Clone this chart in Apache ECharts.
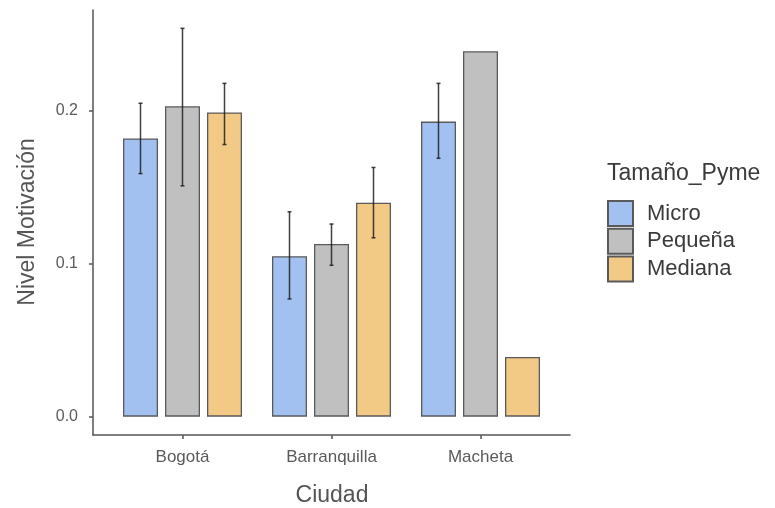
<!DOCTYPE html>
<html><head><meta charset="utf-8">
<script src="https://cdn.jsdelivr.net/npm/echarts@6/dist/echarts.min.js"></script>
<style>html,body{margin:0;padding:0;background:#fff}#c{width:775px;height:508px}</style>
</head><body><div id="c"></div>
<script>
const cities = ['Bogotá', 'Barranquilla', 'Macheta'];
const groups = ['Micro', 'Pequeña', 'Mediana'];
const micro = [0.182, 0.105, 0.193];
const pequena = [0.203, 0.113, 0.239];
const mediana = [0.199, 0.140, 0.039];
const microLow = [0.159, 0.077, 0.169];
const microHigh = [0.205, 0.134, 0.218];
const pequenaLow = [0.151, 0.099, null];
const pequenaHigh = [0.254, 0.126, null];
const medianaLow = [0.178, 0.117, null];
const medianaHigh = [0.218, 0.163, null];
const yTicks = [0, 0.1, 0.2];

const colors = ['#a3c1f0', '#c0c0c0', '#f2c985'];
const FONT = 'Liberation Sans';
const barW = 35, gapPx = 7;

const means = [micro, pequena, mediana];
const lows = [microLow, pequenaLow, medianaLow];
const highs = [microHigh, pequenaHigh, medianaHigh];

const errData = [];
for (let g = 0; g < 3; g++) {
  for (let i = 0; i < cities.length; i++) {
    if (lows[g][i] != null) errData.push([i, lows[g][i], highs[g][i], g - 1]);
  }
}

const chart = echarts.init(document.getElementById('c'));
const axisColor = '#555';
const barSeries = groups.map((name, g) => ({
  name, type: 'bar', xAxisIndex: 1, yAxisIndex: 1,
  data: means[g], barWidth: barW, barGap: (gapPx / barW * 100) + '%',
  itemStyle: { color: colors[g], borderColor: '#5a5a5a', borderWidth: 1.3 },
  emphasis: { disabled: true }
}));

chart.setOption({
  animation: false,
  grid: [
    { left: 93, right: 205, top: 10, bottom: 73 },
    { left: 108, right: 220, top: 10, bottom: 73 }
  ],
  xAxis: [
    { type: 'value', gridIndex: 0, min: 0, max: 1,
      axisLine: { show: true, onZero: false, lineStyle: { color: axisColor, width: 1.5 } },
      axisTick: { show: false }, axisLabel: { show: false }, splitLine: { show: false } },
    { type: 'category', gridIndex: 1, data: cities,
      axisLine: { show: false, onZero: false },
      axisTick: { show: true, alignWithLabel: true, length: 4, lineStyle: { color: axisColor, width: 1.5 } },
      axisLabel: { margin: 14, fontFamily: FONT, fontSize: 17, color: '#5a5a5a' },
      splitLine: { show: false } }
  ],
  yAxis: [
    { type: 'value', gridIndex: 0, min: -0.012, max: 0.266,
      axisLine: { show: true, onZero: false, lineStyle: { color: axisColor, width: 1.5 } },
      axisTick: { show: true, length: 4, customValues: yTicks, lineStyle: { color: axisColor, width: 1.5 } },
      axisLabel: { customValues: yTicks, margin: 15, fontFamily: FONT, fontSize: 16, color: '#5a5a5a',
        formatter: v => v.toFixed(1) },
      splitLine: { show: false } },
    { type: 'value', gridIndex: 1, min: -0.012, max: 0.266, show: false, splitLine: { show: false } }
  ],
  legend: {
    orient: 'vertical', left: 602, top: 195, itemWidth: 25, itemHeight: 25, itemGap: 0.7,
    icon: 'rect', data: groups,
    textStyle: { fontFamily: FONT, fontSize: 22, color: '#3a3a3a', lineHeight: 25, padding: [0, 0, 0, 9] }
  },
  graphic: [
    { type: 'text', x: 607, y: 162, style: { text: 'Tamaño_Pyme', font: '23px "Liberation Sans"', fill: '#3a3a3a', verticalAlign: 'top' } },
    { type: 'text', x: 332, y: 496, style: { text: 'Ciudad', font: '23px "Liberation Sans"', fill: '#555', align: 'center', verticalAlign: 'middle' } },
    { type: 'text', x: 28, y: 222, rotation: Math.PI / 2, style: { text: 'Nivel Motivación', font: '23px "Liberation Sans"', fill: '#555', align: 'center', verticalAlign: 'middle' } }
  ],
  series: barSeries.concat([{
    type: 'custom', xAxisIndex: 1, yAxisIndex: 1, data: errData, z: 10,
    encode: { x: 0, y: [1, 2] },
    renderItem: function (params, api) {
      const ci = api.value(0), lo = api.value(1), hi = api.value(2), off = api.value(3);
      const pLo = api.coord([ci, lo]), pHi = api.coord([ci, hi]);
      const x = pLo[0] + off * (barW + gapPx);
      const st = { stroke: 'rgba(30,30,30,0.85)', lineWidth: 1.5 };
      return { type: 'group', children: [
        { type: 'line', shape: { x1: x, y1: pLo[1], x2: x, y2: pHi[1] }, style: st },
        { type: 'line', shape: { x1: x - 2, y1: pLo[1], x2: x + 2, y2: pLo[1] }, style: st },
        { type: 'line', shape: { x1: x - 2, y1: pHi[1], x2: x + 2, y2: pHi[1] }, style: st }
      ]};
    }
  }])
});
</script></body></html>
